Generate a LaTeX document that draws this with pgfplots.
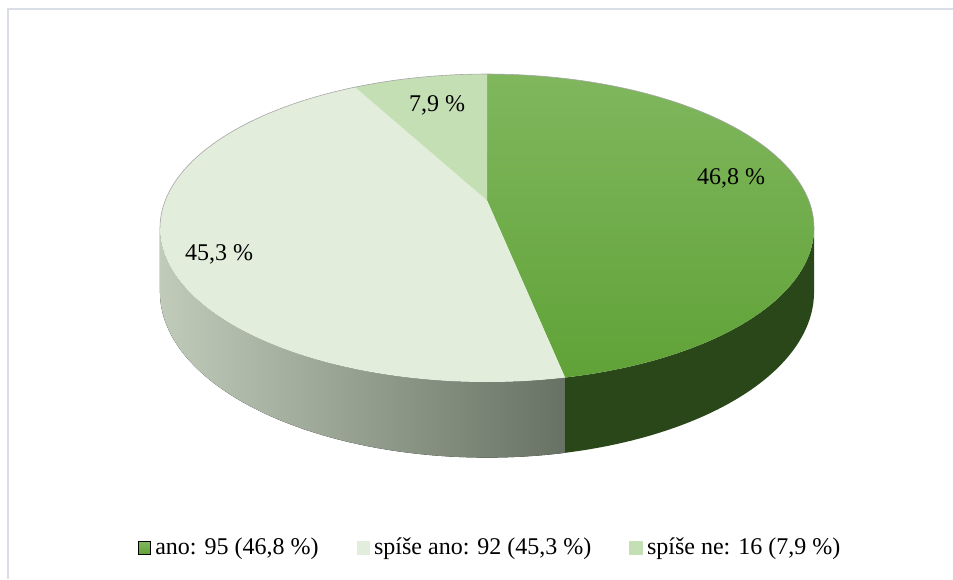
\documentclass[border=0pt]{standalone}
\usepackage{fontspec}
\setmainfont{Liberation Serif}
\usepackage{pgfplots}
\pgfplotsset{compat=1.18}
\usepgfplotslibrary{fillbetween}
\definecolor{anoTop}{HTML}{80B75E}
\definecolor{anoBot}{HTML}{60A237}
\definecolor{anoSide}{HTML}{2A4719}
\definecolor{spaTop}{HTML}{E2EEDB}
\definecolor{spaSideL}{HTML}{C0CBBA}
\definecolor{spaSideR}{HTML}{687264}
\definecolor{spnTop}{HTML}{C5DFB4}
\definecolor{frameC}{HTML}{D9DEE6}
% data
\def\vAno{95}
\def\vSpA{92}
\def\vSpN{16}
\pgfmathsetmacro\tot{\vAno+\vSpA+\vSpN}
\pgfmathsetmacro\aA{360*(\vAno/\tot)}
\pgfmathsetmacro\aB{\aA+360*(\vSpA/\tot)}
% projected pie geometry (pixel units, y up)
\newcommand\PX[1]{487+321.7*sin(#1)/(1+0.18*cos(#1))}
\newcommand\PY[1]{378.7+149*cos(#1)/(1+0.18*cos(#1))}
\newcommand\PYb[1]{378.7+149*cos(#1)/(1+0.18*cos(#1))-62/(1+0.18*cos(#1))}
\begin{document}%
\begin{tikzpicture}
\begin{axis}[
  width=476.5pt, height=289.5pt, scale only axis,
  xmin=0, xmax=953, ymin=0, ymax=579,
  hide axis,
  legend columns=3,
  legend style={at={(491/953,31/579)}, anchor=center, draw=none, fill=none,
    font=\fontsize{12}{14}\selectfont,
    /tikz/every even column/.append style={column sep=17pt}},
]
\draw[frameC, line width=1pt] (axis cs:8,0) -- (axis cs:8,570) -- (axis cs:953,570);

% side faces
\addplot[name path=tA, draw=none, domain=100.4:\aA, samples=60, variable=\t, forget plot] ({\PX{\t}},{\PY{\t}});
\addplot[name path=bA, draw=none, domain=100.4:\aA, samples=60, variable=\t, forget plot] ({\PX{\t}},{\PYb{\t}});
\addplot[fill=anoSide, draw=none, forget plot] fill between[of=tA and bA];
\addplot[name path=tB, draw=none, domain=\aA:259.6, samples=60, variable=\t, forget plot] ({\PX{\t}},{\PY{\t}});
\addplot[name path=bB, draw=none, domain=\aA:259.6, samples=60, variable=\t, forget plot] ({\PX{\t}},{\PYb{\t}});
\addplot[left color=spaSideL, right color=spaSideR, draw=none, forget plot] fill between[of=tB and bB];

% top wedges
\addplot[top color=anoTop, bottom color=anoBot, draw=none, domain=0:\aA, samples=100, variable=\t, forget plot]
  ({\PX{\t}},{\PY{\t}}) -- (axis cs:487,378.7) -- cycle;
\addplot[fill=spaTop, draw=none, domain=\aA:\aB, samples=100, variable=\t, forget plot]
  ({\PX{\t}},{\PY{\t}}) -- (axis cs:487,378.7) -- cycle;
\addplot[fill=spnTop, draw=none, domain=\aB:360, samples=40, variable=\t, forget plot]
  ({\PX{\t}},{\PY{\t}}) -- (axis cs:487,378.7) -- cycle;
% faint rim line on the back edge
\addplot[draw=black!35, line width=0.3pt, domain=259.6:460.4, samples=100, variable=\t, forget plot]
  ({\PX{\t}},{\PY{\t}});

% data labels
\node[anchor=base, font=\fontsize{12}{14}\selectfont] at (axis cs:731,394) {46,8 \%};
\node[anchor=base, font=\fontsize{12}{14}\selectfont] at (axis cs:219,318) {45,3 \%};
\node[anchor=base, font=\fontsize{12}{14}\selectfont] at (axis cs:437,467) {7,9 \%};

% legend
\addlegendimage{legend image code/.code={\fill[top color=anoTop, bottom color=anoBot] (0pt,-3.2pt) rectangle (6.4pt,3.2pt);}}
\addlegendentry{ano: 95 (46,8 \%)}
\addlegendimage{legend image code/.code={\fill[spaTop] (0pt,-3.2pt) rectangle (6.4pt,3.2pt);}}
\addlegendentry{spíše ano: 92 (45,3 \%)}
\addlegendimage{legend image code/.code={\fill[spnTop] (0pt,-3.2pt) rectangle (6.4pt,3.2pt);}}
\addlegendentry{spíše ne: 16 (7,9 \%)}
\end{axis}
\pgfresetboundingbox
\path[use as bounding box] (current axis.south west) rectangle (current axis.north east);
\end{tikzpicture}%
\end{document}
